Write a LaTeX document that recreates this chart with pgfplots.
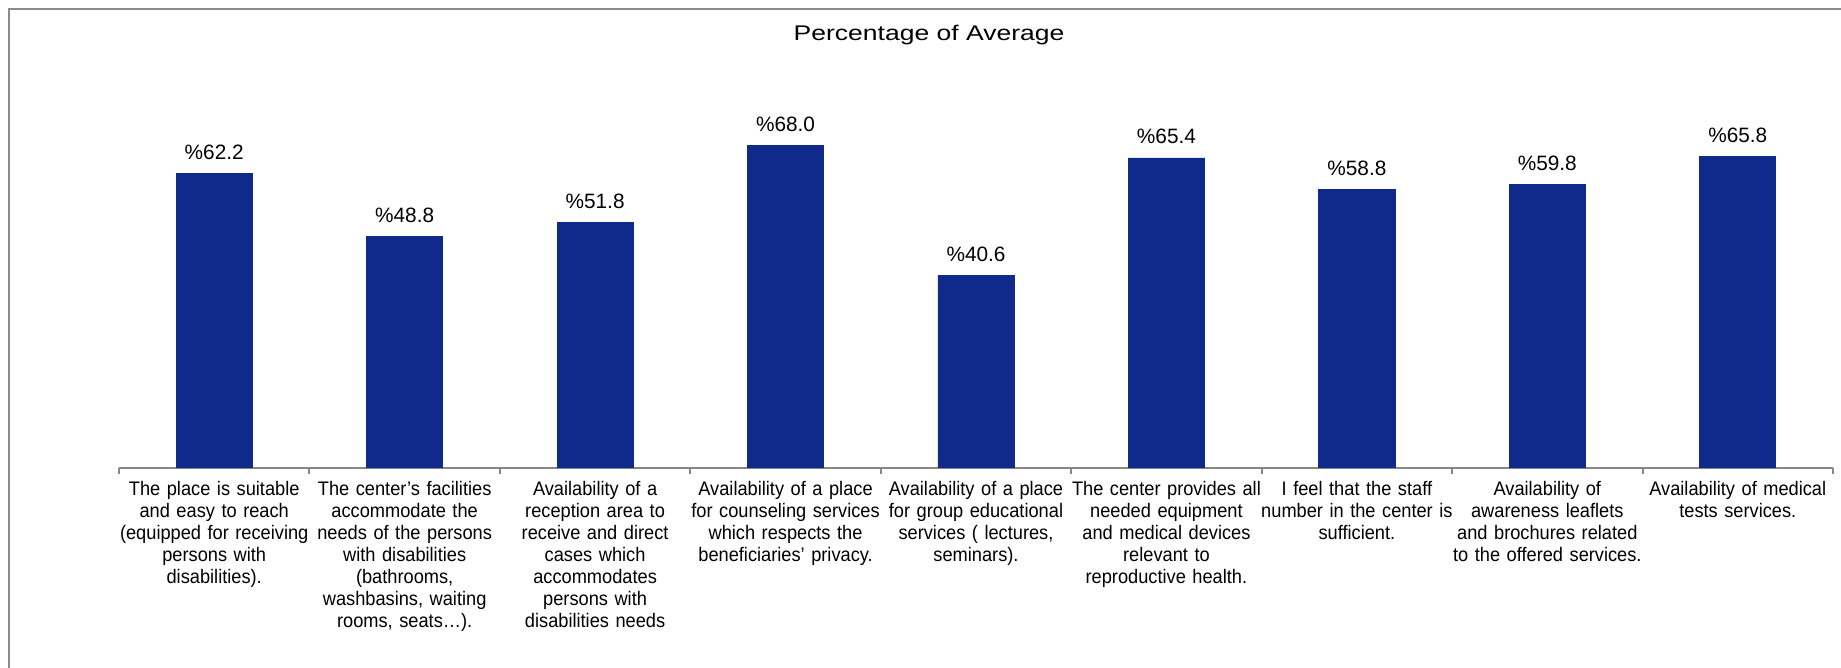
\documentclass[border=0pt]{standalone}
\usepackage{fontspec}
\setmainfont{Liberation Sans}
\newfontfamily\titlefont[FakeStretch=1.25]{Liberation Sans}
\newfontfamily\labelfont[FakeStretch=0.93]{Liberation Sans}
\usepackage{pgfplots}
\pgfplotsset{compat=1.18}

\definecolor{barblue}{RGB}{16,42,140}
\definecolor{axisgray}{RGB}{134,134,134}
\definecolor{framegray}{RGB}{140,140,140}

\begin{document}
\begin{tikzpicture}
\useasboundingbox (0,0) rectangle (920.5pt,334pt);
% chart frame (only left and top edges are inside the picture)
\draw[framegray, line width=1pt] (4.5pt,-5pt) -- (4.5pt,329.5pt) -- (930pt,329.5pt);
\node[anchor=base, font=\titlefont\fontsize{10.6}{12}\selectfont] at (464.5pt,313.5pt) {Percentage of Average};
\begin{axis}[
    at={(59.5pt,100pt)}, anchor=south west,
    width=857pt, height=189.6pt, scale only axis,
    xmin=-0.5, xmax=8.5, ymin=0, ymax=80,
    hide y axis,
    axis x line*=bottom,
    x axis line style={axisgray, line width=1pt, -},
    xtick={0,...,8},
    major x tick style={draw=none},
    xticklabels={
        {The place is suitable\\and easy to reach\\(equipped for receiving\\persons with\\disabilities).},
        {The center’s facilities\\accommodate the\\needs of the persons\\with disabilities\\(bathrooms,\\washbasins, waiting\\rooms, seats…).},
        {Availability of a\\reception area to\\receive and direct\\cases which\\accommodates\\persons with\\disabilities needs},
        {Availability of a place\\for counseling services\\which respects the\\beneficiaries’ privacy.},
        {Availability of a place\\for group educational\\services ( lectures,\\seminars).},
        {The center provides all\\needed equipment\\and medical devices\\relevant to\\reproductive health.},
        {I feel that the staff\\number in the center is\\sufficient.},
        {Availability of\\awareness leaflets\\and brochures related\\to the offered services.},
        {Availability of medical\\tests services.}
    },
    xticklabel style={anchor=north, yshift=-3.2pt, text width=100pt, align=center,
        font=\labelfont\fontsize{9.8}{11.0}\selectfont},
    extra x ticks={-0.5,0.5,...,8.5},
    extra x tick labels={},
    extra x tick style={tick align=outside, major tick length=3pt,
        major x tick style={draw=axisgray, line width=1pt}},
    /pgf/number format/assume math mode=true,
    nodes near coords={\%\pgfmathprintnumber[fixed,fixed zerofill,precision=1]{\pgfplotspointmeta}},
    nodes near coords style={anchor=base, yshift=7pt, inner sep=0pt, font=\fontsize{10.4}{12}\selectfont, text=black},
]
\addplot[ybar, bar width=0.4, fill=barblue, draw=barblue] coordinates {
    (0,62.2) (1,48.8) (2,51.8) (3,68.0) (4,40.6)
    (5,65.4) (6,58.8) (7,59.8) (8,65.8)
};
\end{axis}
\end{tikzpicture}
\end{document}
